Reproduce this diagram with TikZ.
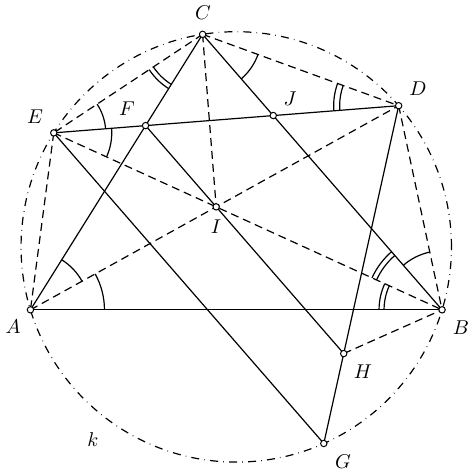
\documentclass[tikz,border=0pt]{standalone}
\usetikzlibrary{calc,angles}
\begin{document}
\begin{tikzpicture}[x=0.5pt,y=0.5pt,line width=0.6pt,
  dsh/.style={dash pattern=on 4pt off 2.5pt},
  circ/.style={dash pattern=on 4pt off 2.6pt on 0.3pt off 2.6pt},
  dotpt/.style={circle,draw,fill=white,inner sep=0pt,minimum size=3.2pt,line width=0.5pt},
  lbl/.style={inner sep=0pt},
  mk/.style={draw,line width=0.6pt}]
\useasboundingbox (0,0) rectangle (473,474);
% base geometry
\coordinate (O) at (236.25,227.1);
\coordinate (A) at ($(O)+(197:215.2)$);
\coordinate (B) at ($(O)+(343:215.2)$);
\coordinate (C) at ($(O)+(99:215.2)$);
\coordinate (D) at ($(O)+(41:215.2)$);
\coordinate (E) at ($(O)+(148:215.2)$);
\coordinate (G) at ($(O)+(-66:215.2)$);
\coordinate (I) at (intersection of A--D and B--E);
\coordinate (F) at (intersection of A--C and E--D);
\coordinate (J) at (intersection of B--C and E--D);
\coordinate (F2) at ($(F)+(B)-(C)$);
\coordinate (H) at (intersection of D--G and F--F2);
% circle k
\draw[circ] (O) circle (215.2);
% dashed lines
\draw[dsh] (C) -- (E);
\draw[dsh] (E) -- (A);
\draw[dsh] (C) -- (I);
\draw[dsh] (C) -- (D);
\draw[dsh] (A) -- (D);
\draw[dsh] (E) -- (B);
\draw[dsh] (D) -- (B);
\draw[dsh] (H) -- (B);
% solid lines
\draw (A) -- (B);
\draw (A) -- (C);
\draw (C) -- (B);
\draw (E) -- (D);
\draw (E) -- (G);
\draw (F) -- (H);
\draw (D) -- (G);
% angle marks
\pic[mk, angle radius=37pt] {angle=B--A--D};
\pic[mk, angle radius=29.5pt] {angle=D--A--C};
\pic[mk, angle radius=29pt] {angle=E--B--A};
\pic[mk, angle radius=31.5pt] {angle=E--B--A};
\pic[mk, angle radius=36pt] {angle=C--B--E};
\pic[mk, angle radius=38.5pt] {angle=C--B--E};
\pic[mk, angle radius=29.5pt] {angle=D--B--C};
\pic[mk, angle radius=29.5pt] {angle=E--C--A};
\pic[mk, angle radius=32pt] {angle=E--C--A};
\pic[mk, angle radius=29.5pt] {angle=B--C--D};
\pic[mk, angle radius=29.5pt] {angle=C--D--E};
\pic[mk, angle radius=32.5pt] {angle=C--D--E};
\pic[mk, angle radius=26pt] {angle=D--E--C};
\pic[mk, angle radius=29pt] {angle=B--E--D};
% points
\foreach \p in {A,B,C,D,E,F,G,H,I,J} \node[dotpt] (p\p) at (\p) {};
% labels
\node[lbl] (lC) at (203,461) {$C$};
\node[lbl] (lE) at (35,357) {$E$};
\node[lbl] (lF) at (127,365) {$F$};
\node[lbl] (lI) at (216,247) {$I$};
\node[lbl] (lJ) at (290,375) {$J$};
\node[lbl] (lD) at (418,385) {$D$};
\node[lbl] (lA) at (13,147) {$A$};
\node[lbl] (lB) at (461,146) {$B$};
\node[lbl] (lH) at (363,102) {$H$};
\node[lbl] (lG) at (343,12) {$G$};
\node[lbl] (lk) at (93,34) {$k$};
\end{tikzpicture}
\end{document}
